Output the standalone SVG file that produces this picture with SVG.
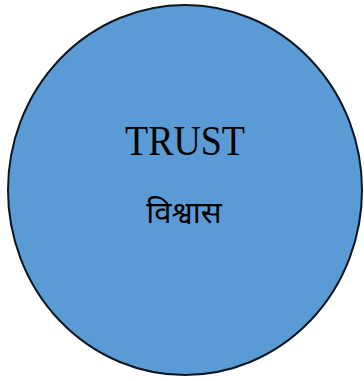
<svg xmlns="http://www.w3.org/2000/svg" width="364" height="381" viewBox="0 0 364 381">
<style>
.t{font-family:"Liberation Serif","Noto Serif","DejaVu Serif",serif;fill:#000;text-anchor:middle}
.h{font-family:"Noto Sans Devanagari","Noto Sans","Lohit Devanagari","FreeSans",sans-serif;fill:#000;text-anchor:middle}
</style>
<g id="trust">
<ellipse cx="185" cy="190" rx="177" ry="185" fill="#5B9BD5" stroke="#0B1620" stroke-width="2"/>
<text class="t" x="185" y="155" font-size="42" textLength="120" lengthAdjust="spacingAndGlyphs">TRUST</text>
<text class="h" x="184" y="223" font-size="31">विश्वास</text>
</g>
</svg>
